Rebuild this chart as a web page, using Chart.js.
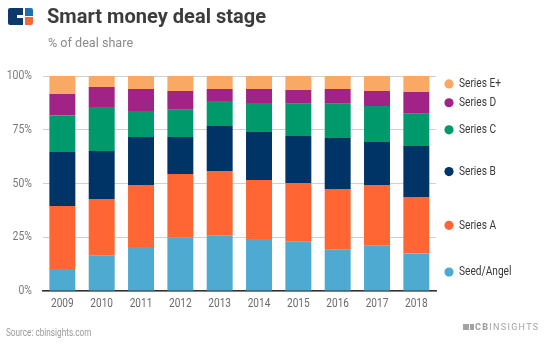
<!DOCTYPE html>
<html>
<head>
<meta charset="utf-8">
<script src="https://cdn.jsdelivr.net/npm/chart.js@4"></script>
<style>
  html, body { margin: 0; padding: 0; background: #fff; }
  body { width: 552px; height: 348px; position: relative; overflow: hidden; font-family: Roboto, sans-serif; }
  #wrap { position: absolute; left: 0; top: 0; width: 552px; height: 348px; }
  .logo { position: absolute; left: 8px; top: 8px; width: 25px; height: 17px; }
  .logo .l { position: absolute; left: 0; top: 0; width: 15px; height: 17px; background: #0d3a6b; border-radius: 2px 0 0 2px; }
  .logo .n { position: absolute; left: 9px; top: 7px; width: 6px; height: 3px; background: #fff; }
  .logo .tr { position: absolute; left: 17px; top: 0; width: 8px; height: 8px; background: #1f6fae; border-radius: 0 2px 0 0; }
  .logo .br { position: absolute; left: 17px; top: 9px; width: 8px; height: 8px; background: #f26a35; border-radius: 0 0 2px 0; }
  #title { position: absolute; left: 47px; top: 4px; font-weight: bold; font-size: 21px; color: #3c3c3c; white-space: nowrap; transform: scaleX(0.955); transform-origin: left top; }
  #sub { position: absolute; left: 48px; top: 35px; font-size: 13px; color: #8a8a8a; white-space: nowrap; transform: scaleX(0.97); transform-origin: left top; }
  #source { position: absolute; left: 6px; top: 327px; font-size: 10px; color: #9a9a9a; white-space: nowrap; transform: scaleX(0.82); transform-origin: left top; }
  #brand { position: absolute; left: 463px; top: 322px; font-size: 9px; letter-spacing: 1.3px; color: #a3a3a3; white-space: nowrap; }
  #brand .ic { display: inline-block; position: relative; width: 11px; height: 6px; background: #a3a3a3; margin-right: 1px; vertical-align: 0px; }
  #brand .ic i { position: absolute; left: 6px; top: 0; width: 1px; height: 6px; background: #fff; }
  #brand b { font-weight: 900; }
</style>
</head>
<body>
<div id="wrap"><canvas id="chart" width="552" height="348"></canvas></div>
<div class="logo"><div class="l"></div><div class="n"></div><div class="tr"></div><div class="br"></div></div>
<div id="title">Smart money deal stage</div>
<div id="sub">% of deal share</div>
<div id="source">Source: cbinsights.com</div>
<div id="brand"><span class="ic"><i></i></span><b>CB</b>INSIGHTS</div>
<script>
const years = ['2009', '2010', '2011', '2012', '2013', '2014', '2015', '2016', '2017', '2018'];
const seedAngel = [10.2, 16.4, 20.5, 24.8, 25.7, 24.2, 22.9, 19.2, 21.1, 17.4];
const seriesA = [29.3, 26.4, 28.8, 29.6, 30.1, 27.4, 27.3, 28.2, 28.2, 26.3];
const seriesB = [25.2, 22.3, 22.3, 17.2, 20.9, 22.4, 21.9, 23.8, 20.0, 23.7];
const seriesC = [16.9, 20.5, 12.1, 12.7, 11.7, 13.4, 15.0, 15.9, 16.7, 15.1];
const seriesD = [10.0, 9.3, 10.3, 8.7, 5.6, 6.6, 6.4, 6.9, 7.0, 10.1];
const seriesE = [8.4, 5.1, 6.0, 7.0, 6.0, 6.0, 6.5, 6.0, 7.0, 7.4];
const yTicks = [0, 25, 50, 75, 100];

// no condensed face is installed, so squeeze Roboto horizontally
function narrowText(ctx, text, x, y, align, sx) {
    ctx.save();
    ctx.translate(x, y);
    ctx.scale(sx, 1);
    ctx.textAlign = align;
    ctx.textBaseline = 'middle';
    ctx.fillText(text, 0, 0);
    ctx.restore();
}

const narrowLabels = {
    id: 'narrowLabels',
    afterDraw(chart) {
        const ctx = chart.ctx;
        const xs = chart.scales.x;
        const ys = chart.scales.y;
        ctx.save();
        ctx.font = '12px Roboto, sans-serif';
        ctx.fillStyle = '#6a6a6a';
        years.forEach((yr, i) => {
            narrowText(ctx, yr, xs.getPixelForTick(i), 304, 'center', 0.84);
        });
        ctx.fillStyle = '#7a7a7a';
        yTicks.forEach(v => {
            narrowText(ctx, v + '%', 32, ys.getPixelForValue(v), 'right', 0.87);
        });

        // legend labels sit beside the middle of each segment of the last bar
        const lx = chart.chartArea.right + 13;
        chart.data.datasets.forEach((ds, i) => {
            const meta = chart.getDatasetMeta(i);
            const bar = meta.data[meta.data.length - 1];
            const y = (bar.y + bar.base) / 2;
            ctx.fillStyle = ds.backgroundColor;
            ctx.beginPath();
            ctx.arc(lx, y, 4.6, 0, Math.PI * 2);
            ctx.fill();
            ctx.fillStyle = '#3a3a3a';
            ctx.font = '13px Roboto, sans-serif';
            narrowText(ctx, ds.label, lx + 10, y, 'left', 0.78);
        });
        ctx.restore();
    }
};

new Chart(document.getElementById('chart'), {
    type: 'bar',
    data: {
        labels: years,
        datasets: [
            { label: 'Seed/Angel', data: seedAngel, backgroundColor: '#4eaad0' },
            { label: 'Series A', data: seriesA, backgroundColor: '#ff6633' },
            { label: 'Series B', data: seriesB, backgroundColor: '#003366' },
            { label: 'Series C', data: seriesC, backgroundColor: '#00996b' },
            { label: 'Series D', data: seriesD, backgroundColor: '#a02385' },
            { label: 'Series E+', data: seriesE, backgroundColor: '#f9a964' }
        ]
    },
    options: {
        responsive: false,
        animation: false,
        layout: { padding: { top: 76, right: 116, bottom: 35, left: 0 } },
        plugins: { legend: { display: false }, tooltip: { enabled: false } },
        datasets: { bar: { categoryPercentage: 1, barPercentage: 0.66, borderWidth: 0 } },
        scales: {
            x: {
                stacked: true,
                grid: { display: false, drawTicks: false },
                border: { display: true, color: '#333', width: 1.5 },
                ticks: { display: false },
                afterFit: s => { s.height = 22; }
            },
            y: {
                stacked: true,
                min: 0,
                max: 100,
                afterBuildTicks: s => { s.ticks = yTicks.map(v => ({ value: v })); },
                grid: { color: '#d0d0d0', drawTicks: false },
                border: { display: false },
                ticks: { display: false },
                afterFit: s => { s.width = 42.7; }
            }
        }
    },
    plugins: [narrowLabels]
});
</script>
</body>
</html>
